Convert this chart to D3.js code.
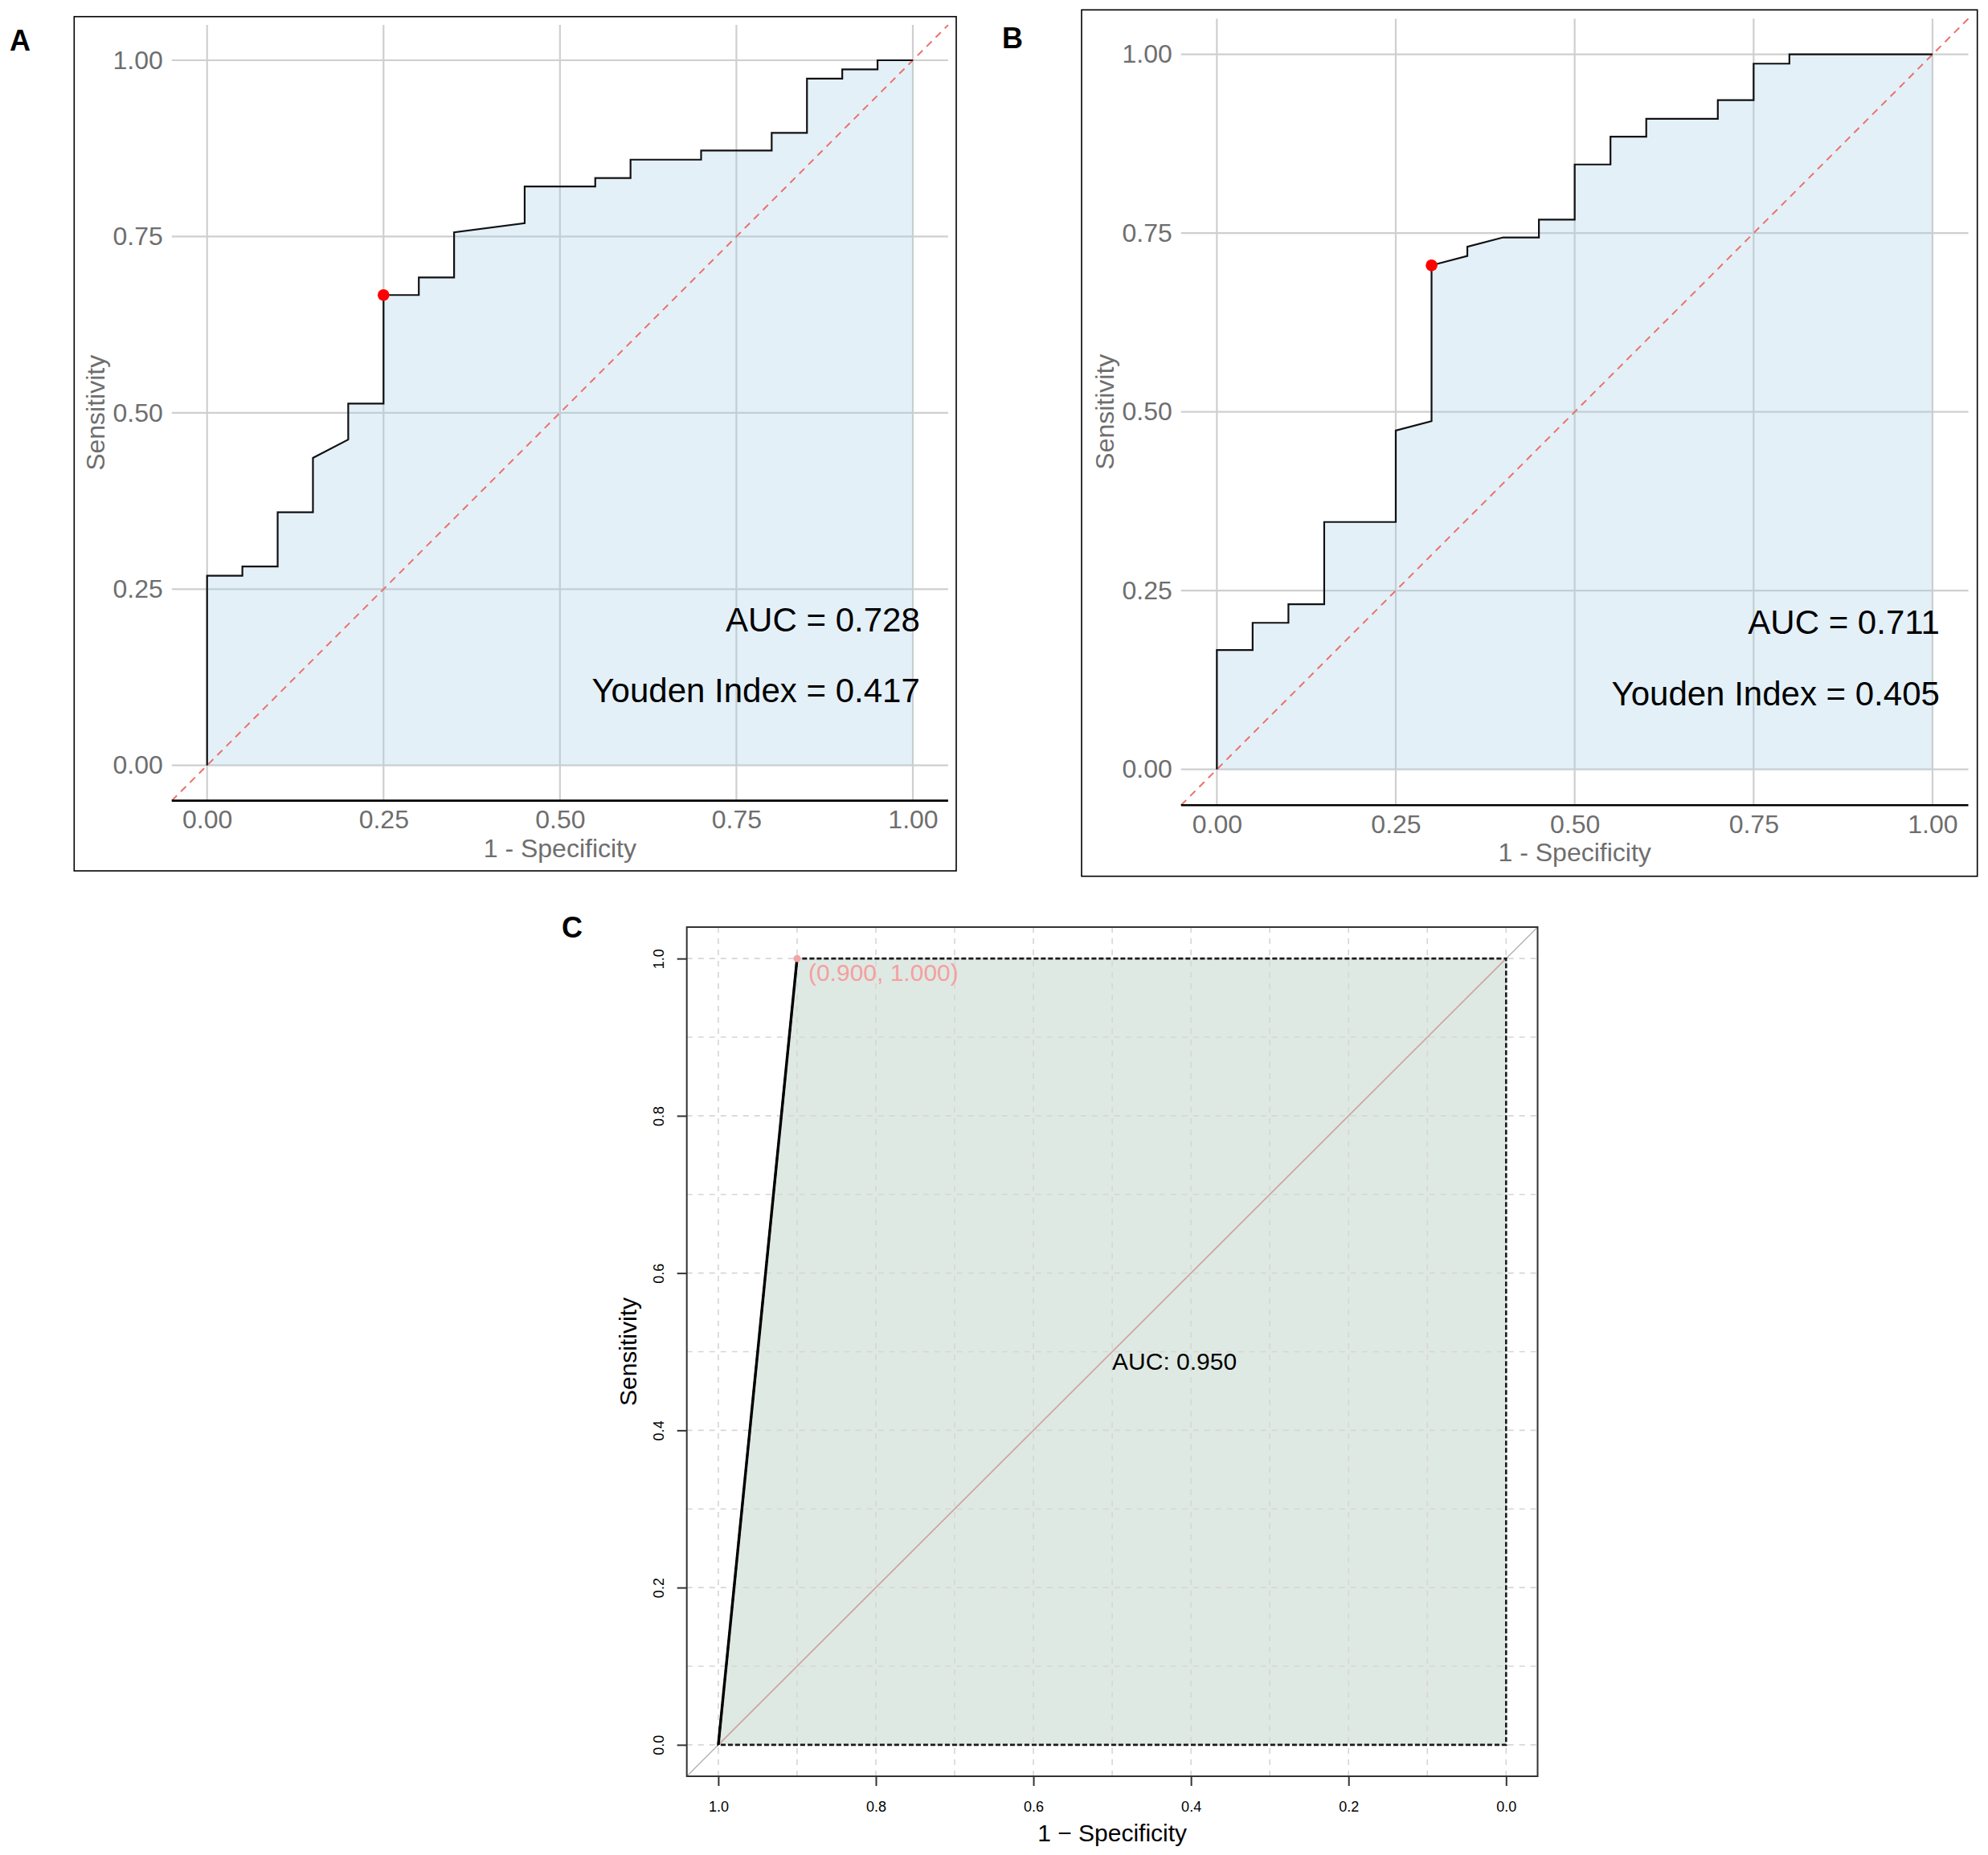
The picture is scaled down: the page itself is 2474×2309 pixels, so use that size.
<!DOCTYPE html>
<html>
<head>
<meta charset="utf-8">
<script src="https://cdn.jsdelivr.net/npm/d3@7"></script>
<style>
  body { margin: 0; background: #fff; }
  svg { display: block; font-family: "Liberation Sans", Arial, sans-serif; }
</style>
</head>
<body>
<svg id="fig" width="2474" height="2309"></svg>
<script>
// ---- data ----
// panel A: ROC steps (1 - specificity, sensitivity)
var fprA = [0, 0, 0.05, 0.05, 0.10, 0.10, 0.15, 0.15, 0.20, 0.20, 0.25, 0.25, 0.30, 0.30, 0.35, 0.35,
            0.45, 0.45, 0.55, 0.55, 0.60, 0.60, 0.70, 0.70, 0.80, 0.80, 0.85, 0.85, 0.90, 0.90, 0.95, 0.95, 1.00];
var tprA = [0, 0.269, 0.269, 0.282, 0.282, 0.359, 0.359, 0.436, 0.462, 0.513, 0.513, 0.667, 0.667, 0.692, 0.692, 0.756,
            0.769, 0.821, 0.821, 0.833, 0.833, 0.859, 0.859, 0.872, 0.872, 0.897, 0.897, 0.974, 0.974, 0.987, 0.987, 1.0, 1.0];
var cutA = [0.25, 0.667];
var textA = ["AUC = 0.728", "Youden Index = 0.417"];

// panel B
var fprB = [0, 0, 0.05, 0.05, 0.10, 0.10, 0.15, 0.15, 0.25, 0.25, 0.30, 0.30, 0.35, 0.35, 0.40,
            0.45, 0.45, 0.50, 0.50, 0.55, 0.55, 0.60, 0.60, 0.70, 0.70, 0.75, 0.75, 0.80, 0.80, 1.00];
var tprB = [0, 0.167, 0.167, 0.205, 0.205, 0.231, 0.231, 0.346, 0.346, 0.474, 0.487, 0.705, 0.718, 0.731, 0.744,
            0.744, 0.769, 0.769, 0.846, 0.846, 0.885, 0.885, 0.910, 0.910, 0.936, 0.936, 0.987, 0.987, 1.0, 1.0];
var cutB = [0.30, 0.705];
var textB = ["AUC = 0.711", "Youden Index = 0.405"];

// panel C (pROC style, specificity axis reversed)
var specC = [1.0, 0.9, 0.0];
var sensC = [0.0, 1.0, 1.0];
var cutC = [0.9, 1.0];
var cutLabelC = "(0.900, 1.000)";
var aucLabelC = "AUC: 0.950";

var ticksAB = [0, 0.25, 0.5, 0.75, 1];
var ticksC = [1.0, 0.8, 0.6, 0.4, 0.2, 0.0];
var gridC = [0, 0.1, 0.2, 0.3, 0.4, 0.5, 0.6, 0.7, 0.8, 0.9, 1.0];

var svg = d3.select("#fig");

// ggplot-like panel (A and B)
function ggPanel(o) {
  var g = svg.append("g");
  var x = d3.scaleLinear().domain([-0.05, 1.05]).range(o.xr);
  var y = d3.scaleLinear().domain([-0.05, 1.05]).range(o.yr);
  var pts = o.fpr.map(function(d, i) { return [d, o.tpr[i]]; });

  // outer border
  g.append("rect")
    .attr("x", o.box[0]).attr("y", o.box[1])
    .attr("width", o.box[2] - o.box[0]).attr("height", o.box[3] - o.box[1])
    .attr("fill", "none").attr("stroke", "#000").attr("stroke-width", 1.6);

  // grid
  g.selectAll(".gx").data(ticksAB).enter().append("line")
    .attr("x1", function(d) { return x(d); }).attr("x2", function(d) { return x(d); })
    .attr("y1", o.yr[0]).attr("y2", o.yr[1])
    .attr("stroke", "#cfcfcf").attr("stroke-width", 2.2);
  g.selectAll(".gy").data(ticksAB).enter().append("line")
    .attr("y1", function(d) { return y(d); }).attr("y2", function(d) { return y(d); })
    .attr("x1", o.xr[0]).attr("x2", o.xr[1])
    .attr("stroke", "#cfcfcf").attr("stroke-width", 2.2);

  // area under curve
  g.append("path").datum(pts)
    .attr("fill", "rgb(165,205,232)").attr("fill-opacity", 0.3)
    .attr("d", d3.area().x(function(d) { return x(d[0]); })
      .y0(y(0)).y1(function(d) { return y(d[1]); }));

  // chance line
  g.append("line")
    .attr("x1", x(-0.05)).attr("y1", y(-0.05)).attr("x2", x(1.05)).attr("y2", y(1.05))
    .attr("stroke", "#e8736c").attr("stroke-width", 2).attr("stroke-dasharray", "9,7");

  // curve
  g.append("path").datum(pts)
    .attr("fill", "none").attr("stroke", "#111").attr("stroke-width", 2.2)
    .attr("d", d3.line().x(function(d) { return x(d[0]); }).y(function(d) { return y(d[1]); }));

  g.append("circle")
    .attr("cx", x(o.cut[0])).attr("cy", y(o.cut[1])).attr("r", 7.3)
    .attr("fill", "#ff0000");

  // axes
  var ax = g.append("g").attr("transform", "translate(0," + o.yr[0] + ")")
    .call(d3.axisBottom(x).tickValues(ticksAB).tickSize(0).tickPadding(12).tickFormat(d3.format(".2f")));
  ax.select(".domain").remove();
  var ay = g.append("g").attr("transform", "translate(" + o.xr[0] + ",0)")
    .call(d3.axisLeft(y).tickValues(ticksAB).tickSize(0).tickPadding(11).tickFormat(d3.format(".2f")));
  ay.select(".domain").remove();
  g.selectAll(".tick text").attr("font-size", 32).attr("fill", "#6e6e6e")
    .attr("font-family", "Liberation Sans, Arial, sans-serif");

  g.append("line")
    .attr("x1", o.xr[0]).attr("x2", o.xr[1]).attr("y1", o.yr[0]).attr("y2", o.yr[0])
    .attr("stroke", "#000").attr("stroke-width", 2.6);

  g.append("text")
    .attr("x", (o.xr[0] + o.xr[1]) / 2).attr("y", o.yr[0] + 70)
    .attr("text-anchor", "middle").attr("font-size", 32).attr("fill", "#6e6e6e")
    .text("1 - Specificity");
  g.append("text")
    .attr("transform", "translate(" + (o.xr[0] - 84) + "," + ((o.yr[0] + o.yr[1]) / 2) + ") rotate(-90)")
    .attr("text-anchor", "middle").attr("font-size", 32).attr("fill", "#6e6e6e")
    .text("Sensitivity");

  // annotations
  g.append("text")
    .attr("x", x(1.01)).attr("y", y(0.207)).attr("dy", "0.36em")
    .attr("text-anchor", "end").attr("font-size", 42).attr("fill", "#000")
    .text(o.labels[0]);
  g.append("text")
    .attr("x", x(1.01)).attr("y", y(0.107)).attr("dy", "0.36em")
    .attr("text-anchor", "end").attr("font-size", 42).attr("fill", "#000")
    .text(o.labels[1]);

  svg.append("text")
    .attr("x", o.tag[0]).attr("y", o.tag[1])
    .attr("font-size", 36).attr("font-weight", "bold").attr("fill", "#000")
    .text(o.tagText);
}

ggPanel({
  box: [92.3, 20.7, 1190, 1084], xr: [213.8, 1179.9], yr: [996.6, 31.1],
  fpr: fprA, tpr: tprA, cut: cutA, labels: textA, tag: [12, 63], tagText: "A"
});
ggPanel({
  box: [1346, 12.3, 2460.7, 1090.7], xr: [1469.8, 2449.5], yr: [1002.2, 23.2],
  fpr: fprB, tpr: tprB, cut: cutB, labels: textB, tag: [1247, 60], tagText: "B"
});

// ---- panel C ----
(function() {
  var box = [854.7, 1154, 1913.5, 2211];
  var x = d3.scaleLinear().domain([1.04, -0.04]).range([box[0], box[2]]);
  var y = d3.scaleLinear().domain([-0.04, 1.04]).range([box[3], box[1]]);
  var g = svg.append("g");
  var pts = specC.map(function(d, i) { return [d, sensC[i]]; });
  var line = d3.line().x(function(d) { return x(d[0]); }).y(function(d) { return y(d[1]); });

  // auc polygon
  var poly = pts.concat([[specC[specC.length - 1], 0]]);
  g.append("path")
    .attr("fill", "#dfe9e3")
    .attr("d", line(poly) + "Z");

  // grid
  g.selectAll(".gcx").data(gridC).enter().append("line")
    .attr("x1", function(d) { return x(d); }).attr("x2", function(d) { return x(d); })
    .attr("y1", box[1]).attr("y2", box[3])
    .attr("stroke", "#d6d6d6").attr("stroke-width", 1.6).attr("stroke-dasharray", "7,7");
  g.selectAll(".gcy").data(gridC).enter().append("line")
    .attr("y1", function(d) { return y(d); }).attr("y2", function(d) { return y(d); })
    .attr("x1", box[0]).attr("x2", box[2])
    .attr("stroke", "#d6d6d6").attr("stroke-width", 1.6).attr("stroke-dasharray", "7,7");

  // identity lines
  g.append("line")
    .attr("x1", x(1.04)).attr("y1", y(-0.04)).attr("x2", x(-0.04)).attr("y2", y(1.04))
    .attr("stroke", "#b4b4b4").attr("stroke-width", 1.5);
  g.append("line")
    .attr("x1", x(1)).attr("y1", y(0)).attr("x2", x(0)).attr("y2", y(1))
    .attr("stroke", "#d2a8a4").attr("stroke-width", 1.6);

  // polygon border (dashed)
  g.append("path")
    .attr("fill", "none").attr("stroke", "#1a1a1a").attr("stroke-width", 2.6)
    .attr("stroke-dasharray", "6,3")
    .attr("d", line(poly) + "Z");

  // curve up to the threshold
  g.append("path")
    .attr("fill", "none").attr("stroke", "#000").attr("stroke-width", 3.4)
    .attr("d", line(pts.slice(0, 2)));

  g.append("circle")
    .attr("cx", x(cutC[0])).attr("cy", y(cutC[1])).attr("r", 4.5).attr("fill", "#f4a3a3");
  g.append("text")
    .attr("x", x(cutC[0]) + 14).attr("y", y(cutC[1]) + 28)
    .attr("font-size", 30).attr("fill", "#f4a0a0").text(cutLabelC);

  g.append("text")
    .attr("x", x(0.5)).attr("y", y(0.488)).attr("dy", "0.36em")
    .attr("font-size", 30).attr("fill", "#000").text(aucLabelC);

  // box
  g.append("rect")
    .attr("x", box[0]).attr("y", box[1]).attr("width", box[2] - box[0]).attr("height", box[3] - box[1])
    .attr("fill", "none").attr("stroke", "#333").attr("stroke-width", 2);

  // axes
  var ax = g.append("g").attr("transform", "translate(0," + box[3] + ")")
    .call(d3.axisBottom(x).tickValues(ticksC).tickSize(12).tickPadding(19).tickFormat(d3.format(".1f")));
  ax.select(".domain").remove();
  var ay = g.append("g").attr("transform", "translate(" + box[0] + ",0)")
    .call(d3.axisLeft(y).tickValues(ticksC).tickSize(12).tickFormat(d3.format(".1f")));
  ay.select(".domain").remove();
  ay.selectAll(".tick text")
    .attr("transform", "rotate(-90)").attr("x", 0).attr("y", -29).attr("dy", 0)
    .attr("text-anchor", "middle");
  g.selectAll(".tick line").attr("stroke", "#333").attr("stroke-width", 2);
  g.selectAll(".tick text").attr("font-size", 18).attr("fill", "#000")
    .attr("font-family", "Liberation Sans, Arial, sans-serif");

  g.append("text")
    .attr("x", (box[0] + box[2]) / 2).attr("y", 2292)
    .attr("text-anchor", "middle").attr("font-size", 30).attr("fill", "#000")
    .text("1 \u2212 Specificity");
  g.append("text")
    .attr("transform", "translate(792," + ((y(0) + y(1)) / 2) + ") rotate(-90)")
    .attr("text-anchor", "middle").attr("font-size", 30).attr("fill", "#000")
    .text("Sensitivity");

  svg.append("text")
    .attr("x", 699).attr("y", 1167)
    .attr("font-size", 36).attr("font-weight", "bold").attr("fill", "#000")
    .text("C");
})();
</script>
</body>
</html>
